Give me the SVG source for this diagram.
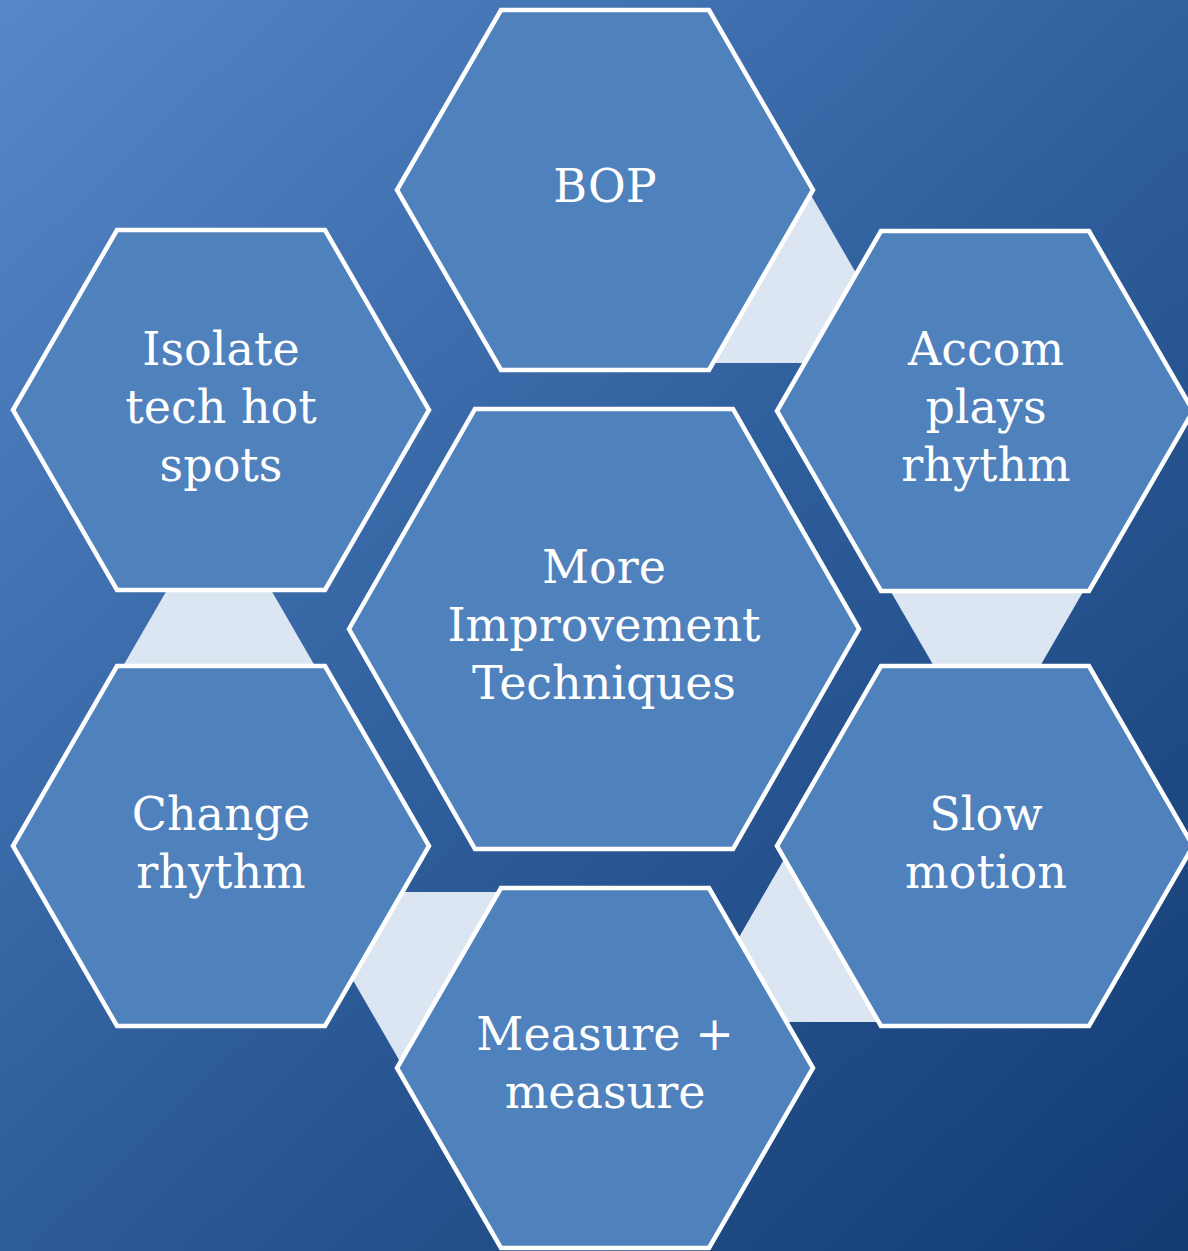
<svg xmlns="http://www.w3.org/2000/svg" width="1188" height="1251" viewBox="0 0 1188 1251">
  <defs>
    <linearGradient id="bg" gradientUnits="userSpaceOnUse" x1="0" y1="0" x2="1188" y2="1251">
      <stop offset="0" stop-color="#5687c8"/>
      <stop offset="0.5" stop-color="#2f5e9c"/>
      <stop offset="1" stop-color="#123b72"/>
    </linearGradient>
  </defs>
  <style>
    .hex { fill: #4f81bd; stroke: #ffffff; stroke-width: 4.5; stroke-linejoin: miter; }
    .conn { fill: #dce6f2; stroke: none; }
    .lbl { fill: #ffffff; font-family: "DejaVu Serif", "Liberation Serif", serif; font-size: 46px; text-anchor: middle; }
  </style>
  <rect x="0" y="0" width="1188" height="1251" fill="url(#bg)"/>
  <g id="connectors">
    <polygon class="conn" points="808,190 708,363 908,363"/>
    <polygon class="conn" points="887,585 1087,585 987,758"/>
    <polygon class="conn" points="790,849 690,1022 890,1022"/>
    <polygon class="conn" points="302,892 502,892 402,1065"/>
    <polygon class="conn" points="219,500 119,673 319,673"/>
  </g>
  <g id="node-center">
    <polygon class="hex" points="349,629 475,409 733,409 859,629 733,849 475,849"/>
    <text class="lbl" x="604" y="583">More</text>
    <text class="lbl" x="604" y="641">Improvement</text>
    <text class="lbl" x="604" y="699">Techniques</text>
  </g>
  <g id="node-bop">
    <polygon class="hex" points="397,190 501,10 709,10 813,190 709,370 501,370"/>
    <text class="lbl" x="605" y="202">BOP</text>
  </g>
  <g id="node-accom">
    <polygon class="hex" points="777,411 881,231 1089,231 1193,411 1089,591 881,591"/>
    <text class="lbl" x="986" y="365">Accom</text>
    <text class="lbl" x="986" y="423">plays</text>
    <text class="lbl" x="986" y="481">rhythm</text>
  </g>
  <g id="node-slow">
    <polygon class="hex" points="777,846 881,666 1089,666 1193,846 1089,1026 881,1026"/>
    <text class="lbl" x="986" y="830">Slow</text>
    <text class="lbl" x="986" y="888">motion</text>
  </g>
  <g id="node-measure">
    <polygon class="hex" points="397,1068 501,888 709,888 813,1068 709,1248 501,1248"/>
    <text class="lbl" x="605" y="1050">Measure +</text>
    <text class="lbl" x="605" y="1108">measure</text>
  </g>
  <g id="node-change">
    <polygon class="hex" points="13,846 117,666 325,666 429,846 325,1026 117,1026"/>
    <text class="lbl" x="221" y="830">Change</text>
    <text class="lbl" x="221" y="888">rhythm</text>
  </g>
  <g id="node-isolate">
    <polygon class="hex" points="13,410 117,230 325,230 429,410 325,590 117,590"/>
    <text class="lbl" x="221" y="365">Isolate</text>
    <text class="lbl" x="221" y="423">tech hot</text>
    <text class="lbl" x="221" y="481">spots</text>
  </g>
</svg>
